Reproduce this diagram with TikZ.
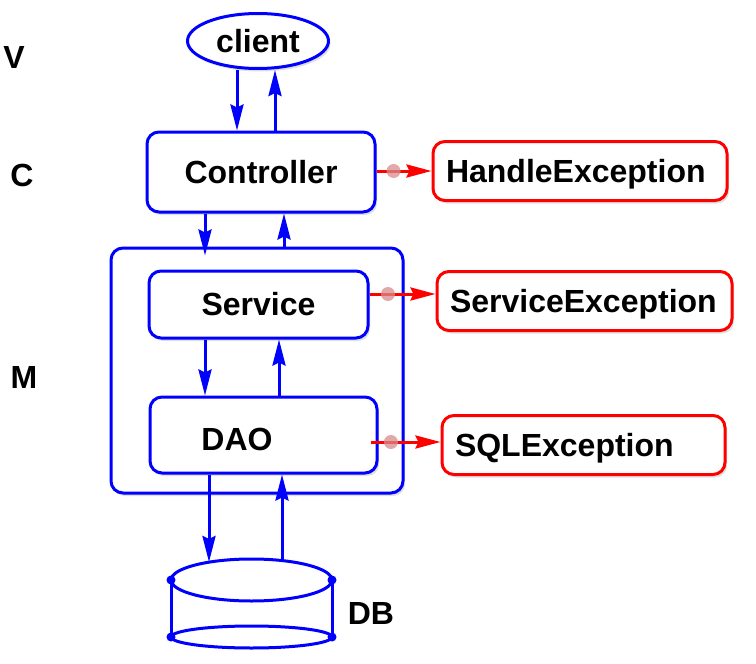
\documentclass[tikz,border=0pt]{standalone}
\usepackage{fontspec}
\setmainfont{Liberation Sans}
\usetikzlibrary{shapes,arrows.meta,shadows}

\begin{document}
\begin{tikzpicture}[x=1pt,y=-1pt,line width=3pt]
	\useasboundingbox (0,0) rectangle (756,664);
	\fontsize{32}{36}\selectfont\bfseries

	\def \clientrow{41}
	\def \ctrlrow{172}
	\def \servrow{304.5}
	\def \daorow{435}
	\def \dbtop{580}
	\def \dbbottom{637}

	\definecolor{blobred}{RGB}{215,140,140}
	\tikzstyle{shade}=[drop shadow={opacity=0.25,shadow xshift=2pt,shadow yshift=-3pt}]
	\tikzstyle{v-node}=[ellipse,draw=blue,fill=white,shade,inner sep=0pt,minimum width=141pt,minimum height=55pt]
	\tikzstyle{b-node}=[rectangle,rounded corners=12pt,draw=blue,fill=white,shade,inner sep=0pt]
	\tikzstyle{e-node}=[rectangle,rounded corners=12pt,draw=red,fill=white,shade,inner xsep=13pt,align=left,minimum height=59pt,text height=23pt,text depth=0pt]
	\tikzstyle{flow}=[draw=blue,-{Stealth[length=26pt,width=13pt,inset=3pt]}]
	\tikzstyle{throw}=[draw=red,-{Stealth[length=25pt,width=13pt,inset=3pt]}]
	\tikzstyle{blob}=[circle,fill=blobred,opacity=0.75,inner sep=0pt,minimum size=14pt]
	% layer letters
	\node	(v)	at (14,57)	{V};
	\node	(c)	at (22,175)	{C};
	\node	(m)	at (24,377)	{M};

	\node[b-node,minimum width=292pt,minimum height=245pt]	(mbox)	at (257,370.5)	{};

	\node[v-node]	(client)	at (258,\clientrow)	{client};
	\node[b-node,minimum width=228pt,minimum height=80pt]	(ctrl)	at (261,\ctrlrow)	{Controller};
	\node[b-node,minimum width=219pt,minimum height=67pt]	(service)	at (258.5,\servrow)	{Service};
	\node[b-node,minimum width=227pt,minimum height=76pt]	(dao)	at (263.5,\daorow)	{};
	\node	(daolabel)	at (237,439)	{DAO};

	% exceptions
	\node[e-node,text width=268pt]	(hexc)	at (580,171)	{HandleException};
	\node[e-node,text width=269pt]	(sexc)	at (584.5,301)	{ServiceException};
	\node[e-node,text width=257pt]	(sqlexc)	at (583.5,445)	{SQLException};

	% database
	\draw[blue] (171,\dbtop) -- (171,\dbbottom) (332,\dbtop) -- (332,\dbbottom);
	\draw[blue,fill=white] (251.5,\dbtop) ellipse [x radius=80.5pt, y radius=21pt];
	\draw[blue] (251.5,\dbbottom) ellipse [x radius=80.5pt, y radius=11pt];
	\foreach \x in {171,332}
		\foreach \y in {\dbtop,\dbbottom}
			\fill[blue] (\x,\y) circle [radius=4.5pt];
	\coordinate	(dbin)	at (209,562);
	\coordinate	(dbout)	at (282,561);
	\node	(dblabel)	at (371,613)	{DB};

	\path
		(client.south -| 237,0)	edge[flow]	(ctrl.north -| 237,0)
		(ctrl.north -| 275,0)	edge[flow]	(client.south -| 275,0)
		(ctrl.south -| 205,0)	edge[flow,shorten >=-9pt]	(mbox.north -| 205,0)
		(mbox.north -| 284,0)	edge[flow]	(ctrl.south -| 284,0)
		(service.south -| 205,0)	edge[flow]	(dao.north -| 205,0)
		(dao.north -| 279,0)	edge[flow]	(service.south -| 279,0)
		(dao.south -| 209,0)	edge[flow]	(dbin)
		(dbout)	edge[flow]	(dao.south -| 282,0);

	\path
		(ctrl.east |- 0,171)	edge[throw]	node[blob,pos=0.31] {}	(hexc.west |- 0,171)
		(service.east |- 0,294)	edge[throw]	node[blob,pos=0.28] {}	(sexc.west |- 0,294)
		(dao.east |- 0,442)	edge[throw,shorten <=-8pt]	node[blob,pos=0.2] {}	(sqlexc.west |- 0,442);
\end{tikzpicture}
\end{document}
